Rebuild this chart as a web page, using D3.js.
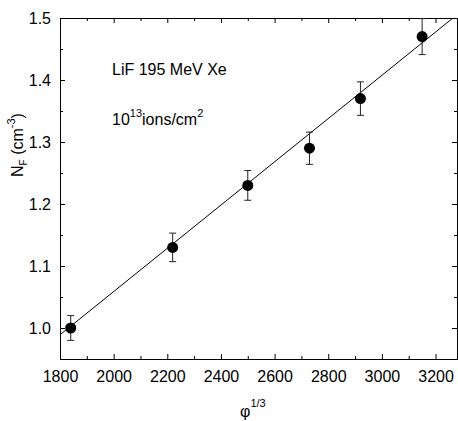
<!DOCTYPE html>
<html>
<head>
<meta charset="utf-8">
<script src="https://cdn.jsdelivr.net/npm/d3@7.9.0/dist/d3.min.js"></script>
<style>
  html, body { margin: 0; padding: 0; background: #fff; }
  svg { display: block; }
  text { font-family: "Liberation Sans", Arial, sans-serif; fill: #000; }
</style>
</head>
<body>
<div id="chart"></div>
<script>
// data
const phi = [1840, 2220, 2500, 2730, 2920, 3150];
const nF = [1.0, 1.13, 1.23, 1.29, 1.37, 1.47];
const nErr = [0.020, 0.023, 0.024, 0.026, 0.027, 0.029];
const fitX = [1800, 3265];
const fitY = [0.989, 1.5];
const xTicks = [1800, 2000, 2200, 2400, 2600, 2800, 3000, 3200];
const xMinor = [1900, 2100, 2300, 2500, 2700, 2900, 3100];
const yTicks = [1.0, 1.1, 1.2, 1.3, 1.4, 1.5];
const yMinor = [1.05, 1.15, 1.25, 1.35, 1.45];

const width = 458;
const height = 421;
const plot = { left: 60, right: 457, top: 18, bottom: 359 };

const svg = d3.select('#chart')
  .append('svg')
  .attr('width', width)
  .attr('height', height);

const x = d3.scaleLinear().domain([1800, 3280]).range([plot.left, plot.right]);
const y = d3.scaleLinear().domain([0.95, 1.5]).range([plot.bottom, plot.top]);

// axes, ticks point inward
function styleAxis(g) {
  g.select('.domain').attr('stroke', '#000').attr('stroke-width', 1);
  g.selectAll('.tick line').attr('stroke', '#000');
  g.selectAll('.tick text')
    .attr('font-size', 16)
    .attr('font-family', '"Liberation Sans", Arial, sans-serif')
    .attr('fill', '#000');
}

svg.append('g')
  .attr('transform', `translate(0,${plot.bottom})`)
  .call(d3.axisBottom(x).tickValues(xTicks).tickSize(-5).tickPadding(12).tickFormat(d3.format('d')))
  .call(styleAxis);
svg.append('g')
  .attr('transform', `translate(0,${plot.bottom})`)
  .call(d3.axisBottom(x).tickValues(xMinor).tickSize(-3).tickFormat(''))
  .call(styleAxis);

svg.append('g')
  .attr('transform', `translate(0,${plot.top})`)
  .call(d3.axisTop(x).tickValues(xTicks).tickSize(-5).tickFormat(''))
  .call(styleAxis);
svg.append('g')
  .attr('transform', `translate(0,${plot.top})`)
  .call(d3.axisTop(x).tickValues(xMinor).tickSize(-3).tickFormat(''))
  .call(styleAxis);

svg.append('g')
  .attr('transform', `translate(${plot.left},0)`)
  .call(d3.axisLeft(y).tickValues(yTicks).tickSize(-5).tickPadding(9).tickFormat(d3.format('.1f')))
  .call(styleAxis);
svg.append('g')
  .attr('transform', `translate(${plot.left},0)`)
  .call(d3.axisLeft(y).tickValues(yMinor).tickSize(-3).tickFormat(''))
  .call(styleAxis);

svg.append('g')
  .attr('transform', `translate(${plot.right},0)`)
  .call(d3.axisRight(y).tickValues(yTicks).tickSize(-5).tickFormat(''))
  .call(styleAxis);
svg.append('g')
  .attr('transform', `translate(${plot.right},0)`)
  .call(d3.axisRight(y).tickValues(yMinor).tickSize(-3).tickFormat(''))
  .call(styleAxis);

// fit line, clipped to the frame
svg.append('clipPath').attr('id', 'clip')
  .append('rect')
  .attr('x', plot.left).attr('y', plot.top)
  .attr('width', plot.right - plot.left).attr('height', plot.bottom - plot.top);

svg.append('path')
  .datum(d3.zip(fitX, fitY))
  .attr('clip-path', 'url(#clip)')
  .attr('fill', 'none')
  .attr('stroke', '#000')
  .attr('stroke-width', 1)
  .attr('d', d3.line().x(d => x(d[0])).y(d => y(d[1])));

// error bars
const pts = phi.map((p, i) => ({ x: p, y: nF[i], e: nErr[i] }));
const bars = svg.append('g').attr('stroke', '#222').attr('stroke-width', 1);
bars.selectAll('line.v').data(pts).join('line')
  .attr('x1', d => x(d.x)).attr('x2', d => x(d.x))
  .attr('y1', d => y(d.y - d.e)).attr('y2', d => y(d.y + d.e));
bars.selectAll('line.top').data(pts).join('line')
  .attr('x1', d => x(d.x) - 3.5).attr('x2', d => x(d.x) + 3.5)
  .attr('y1', d => y(d.y + d.e)).attr('y2', d => y(d.y + d.e));
bars.selectAll('line.bot').data(pts).join('line')
  .attr('x1', d => x(d.x) - 3.5).attr('x2', d => x(d.x) + 3.5)
  .attr('y1', d => y(d.y - d.e)).attr('y2', d => y(d.y - d.e));

svg.append('g').selectAll('circle').data(pts).join('circle')
  .attr('cx', d => x(d.x))
  .attr('cy', d => y(d.y))
  .attr('r', 5.5)
  .attr('fill', '#000');

// annotations
svg.append('text')
  .attr('x', 112).attr('y', 75)
  .attr('font-size', 16)
  .text('LiF 195 MeV Xe');

const dose = svg.append('text').attr('x', 112).attr('y', 125).attr('font-size', 16);
dose.append('tspan').text('10');
dose.append('tspan').attr('font-size', 11).attr('dy', -8).text('13');
dose.append('tspan').attr('dy', 8).text('ions/cm');
dose.append('tspan').attr('font-size', 11).attr('dy', -8).text('2');

// axis titles
const xt = svg.append('text')
  .attr('x', 240).attr('y', 417)
  .attr('font-size', 16);
xt.append('tspan').text('φ');
xt.append('tspan').attr('font-size', 11).attr('dy', -10).text('1/3');

const yt = svg.append('text')
  .attr('transform', 'translate(23,145) rotate(-90)')
  .attr('text-anchor', 'middle')
  .attr('font-size', 16);
yt.append('tspan').text('N');
yt.append('tspan').attr('font-size', 10).attr('dy', 4).text('F');
yt.append('tspan').attr('dy', -4).text(' (cm');
yt.append('tspan').attr('font-size', 11).attr('dy', -8).text('-3');
yt.append('tspan').attr('dy', 8).text(')');
</script>
</body>
</html>
